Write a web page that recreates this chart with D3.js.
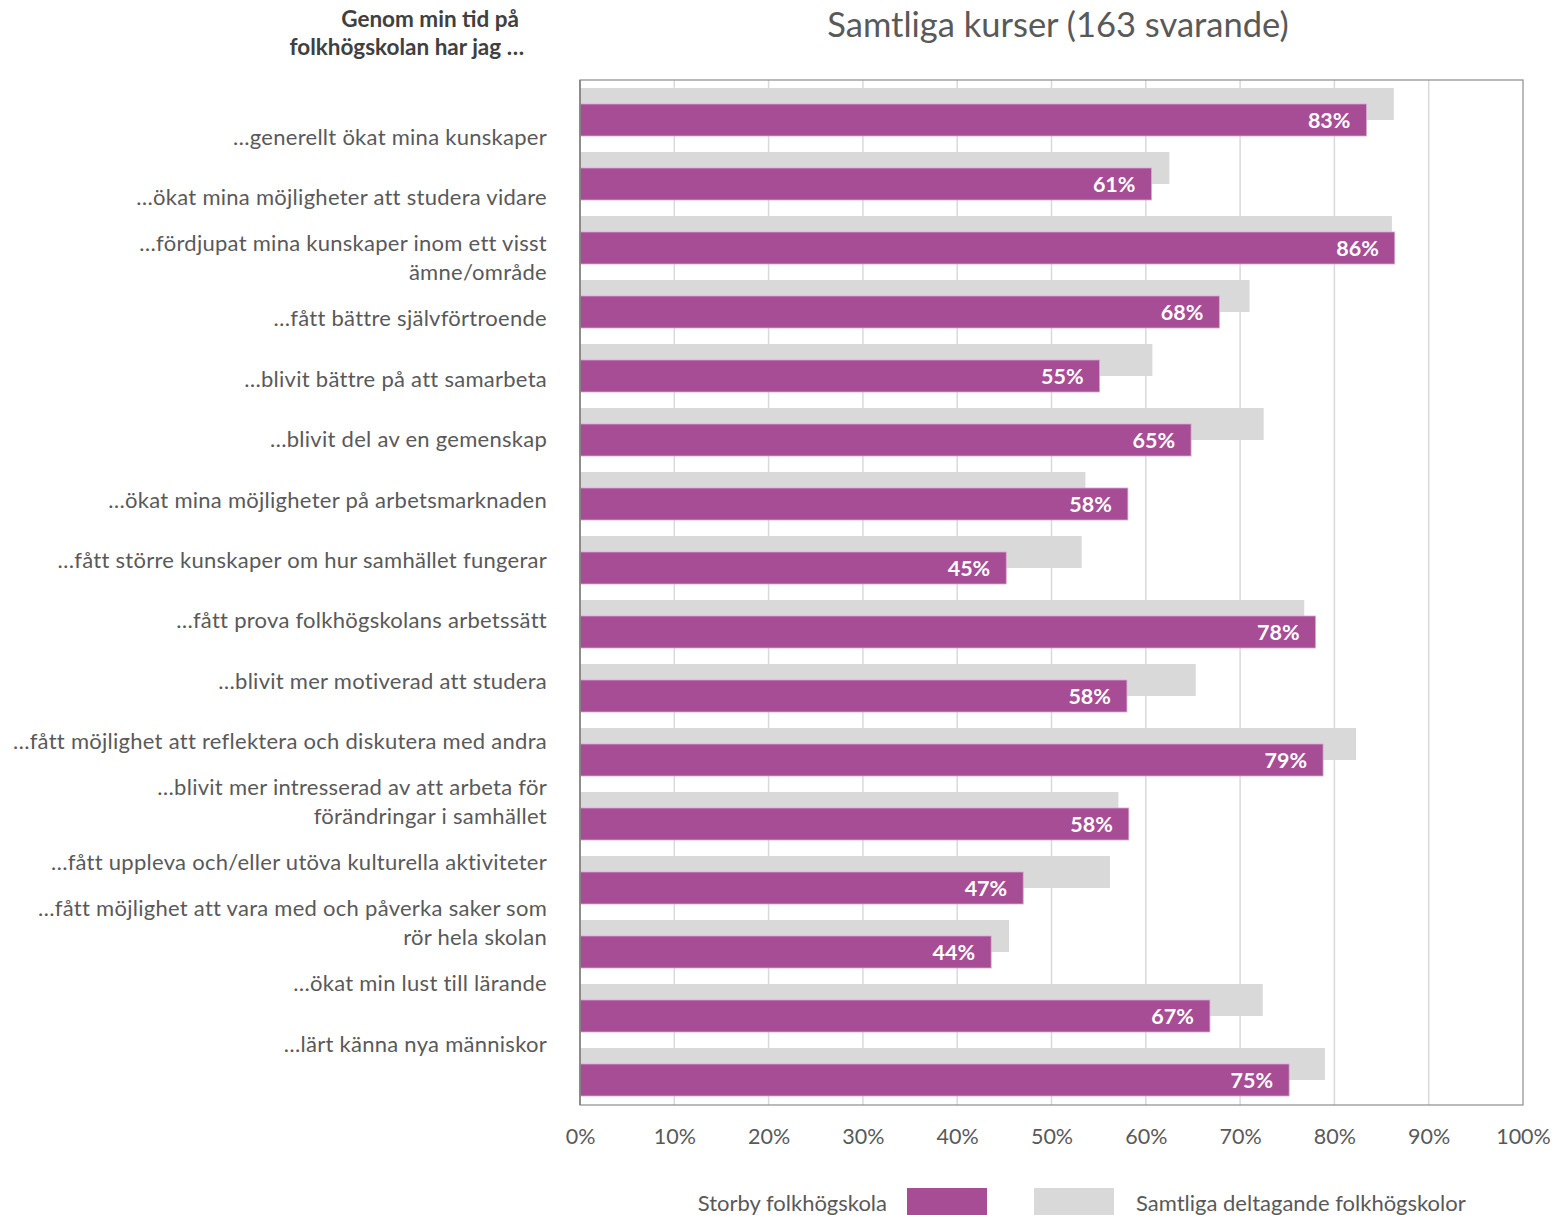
<!DOCTYPE html>
<html>
<head>
<meta charset="utf-8">
<script src="https://cdn.jsdelivr.net/npm/d3@7"></script>
<style>
  html, body { margin: 0; padding: 0; background: #fff; }
  svg { display: block; }
  text { font-family: Lato, "Open Sans", sans-serif; }
</style>
</head>
<body>
<svg id="chart" width="1552" height="1215"></svg>
<script>
const categories = [
  "…generellt ökat mina kunskaper",
  "…ökat mina möjligheter att studera vidare",
  "…fördjupat mina kunskaper inom ett visst\nämne/område",
  "…fått bättre självförtroende",
  "…blivit bättre på att samarbeta",
  "…blivit del av en gemenskap",
  "…ökat mina möjligheter på arbetsmarknaden",
  "…fått större kunskaper om hur samhället fungerar",
  "…fått prova folkhögskolans arbetssätt",
  "…blivit mer motiverad att studera",
  "…fått möjlighet att reflektera och diskutera med andra",
  "…blivit mer intresserad av att arbeta för\nförändringar i samhället",
  "…fått uppleva och/eller utöva kulturella aktiviteter",
  "…fått möjlighet att vara med och påverka saker som\nrör hela skolan",
  "…ökat min lust till lärande",
  "…lärt känna nya människor"
];
const storbyValues = [83.4, 60.6, 86.4, 67.8, 55.1, 64.8, 58.1, 45.2, 78.0, 58.0, 78.8, 58.2, 47.0, 43.6, 66.8, 75.2];
const allValues    = [86.3, 62.5, 86.1, 71.0, 60.7, 72.5, 53.6, 53.2, 76.8, 65.3, 82.3, 57.1, 56.2, 45.5, 72.4, 79.0];
const xTicks = [0, 10, 20, 30, 40, 50, 60, 70, 80, 90, 100];
const seriesNames = ["Storby folkhögskola", "Samtliga deltagande folkhögskolor"];
const chartTitle = "Samtliga kurser (163 svarande)";
const headerLines = ["Genom min tid på", "folkhögskolan har jag …"];

const PURPLE = "#A64D96", GREY = "#D9D9D9", TEXT = "#595959";
const svg = d3.select("#chart");
const pLeft = 580, pRight = 1523, pTop = 80, pBottom = 1105;

const x = d3.scaleLinear().domain([0, 100]).range([pLeft, pRight]);
const y = d3.scaleBand().domain(categories).range([pTop, pBottom - 1]).paddingInner(0).paddingOuter(0);
const yLabel = d3.scalePoint().domain(categories).range([137, 1044]);
const bw = y.bandwidth();

// gridlines
svg.append("g").selectAll("line").data(xTicks.filter(d => d > 0 && d < 100)).join("line")
  .attr("x1", d => x(d)).attr("x2", d => x(d))
  .attr("y1", pTop).attr("y2", pBottom)
  .attr("stroke", "#D9D9D9").attr("stroke-width", 1.5);

// grey bars
svg.append("g").selectAll("rect").data(categories).join("rect")
  .attr("x", x(0)).attr("y", (d) => y(d) + bw * 0.125)
  .attr("width", (d, i) => x(allValues[i]) - x(0))
  .attr("height", bw * 0.5)
  .attr("fill", GREY);

// purple bars
svg.append("g").selectAll("rect").data(categories).join("rect")
  .attr("x", x(0)).attr("y", (d) => y(d) + bw * 0.375)
  .attr("width", (d, i) => x(storbyValues[i]) - x(0))
  .attr("height", bw * 0.5)
  .attr("fill", PURPLE)
  .attr("stroke", "#D7A9CF").attr("stroke-width", 0.8);

// data labels
svg.append("g").selectAll("text").data(categories).join("text")
  .attr("x", (d, i) => x(storbyValues[i]) - 16)
  .attr("y", (d) => y(d) + bw * 0.625)
  .attr("dy", "0.36em")
  .attr("text-anchor", "end")
  .attr("fill", "#fff")
  .attr("font-weight", "bold")
  .attr("font-size", 21.5)
  .text((d, i) => Math.round(storbyValues[i]) + "%");

// frame
svg.append("rect").attr("x", pLeft).attr("y", pTop).attr("width", pRight - pLeft).attr("height", pBottom - pTop)
  .attr("fill", "none").attr("stroke", "#8C8C8C").attr("stroke-width", 1.2);
svg.append("line").attr("x1", pLeft).attr("x2", pLeft).attr("y1", pTop).attr("y2", pBottom)
  .attr("stroke", "#7F7F7F").attr("stroke-width", 1.5);

// x axis
const xAxis = svg.append("g").attr("transform", `translate(0,${pBottom})`)
  .call(d3.axisBottom(x).tickValues(xTicks).tickFormat(d => d + "%").tickSize(0).tickPadding(24));
xAxis.select(".domain").remove();
xAxis.selectAll("text").attr("font-size", 21.5).attr("fill", TEXT)
  .attr("font-family", "Lato, 'Open Sans', sans-serif");

// category labels
const labelG = svg.append("g");
categories.forEach((c) => {
  const lines = c.split("\n");
  const cy = yLabel(c);
  const lh = 29;
  const t = labelG.append("text").attr("text-anchor", "end").attr("fill", TEXT)
    .attr("font-size", 22).attr("letter-spacing", 0.27);
  lines.forEach((ln, j) => {
    t.append("tspan").attr("x", 547).attr("y", cy + (j - (lines.length - 1) / 2) * lh).attr("dy", "0.35em").text(ln);
  });
});

// header
svg.append("text").attr("x", 519).attr("y", 19).attr("dy", "0.35em").attr("text-anchor", "end")
  .attr("font-weight", "bold").attr("font-size", 22.5).attr("fill", "#404040").text(headerLines[0]);
svg.append("text").attr("x", 524).attr("y", 47).attr("dy", "0.35em").attr("text-anchor", "end")
  .attr("font-weight", "bold").attr("font-size", 22.5).attr("fill", "#404040").text(headerLines[1]);

// title
svg.append("text").attr("x", 1058).attr("y", 25).attr("dy", "0.35em").attr("text-anchor", "middle")
  .attr("font-size", 34.5).attr("fill", TEXT).text(chartTitle);

// legend
const lg = svg.append("g");
lg.append("text").attr("x", 887).attr("y", 1203).attr("dy", "0.35em").attr("text-anchor", "end")
  .attr("font-size", 22).attr("fill", TEXT).text(seriesNames[0]);
lg.append("rect").attr("x", 907).attr("y", 1188).attr("width", 80).attr("height", 30).attr("fill", PURPLE);
lg.append("rect").attr("x", 1034).attr("y", 1188).attr("width", 80).attr("height", 30).attr("fill", GREY);
lg.append("text").attr("x", 1136).attr("y", 1203).attr("dy", "0.35em").attr("text-anchor", "start")
  .attr("font-size", 22).attr("fill", TEXT).text(seriesNames[1]);
</script>
</body>
</html>
